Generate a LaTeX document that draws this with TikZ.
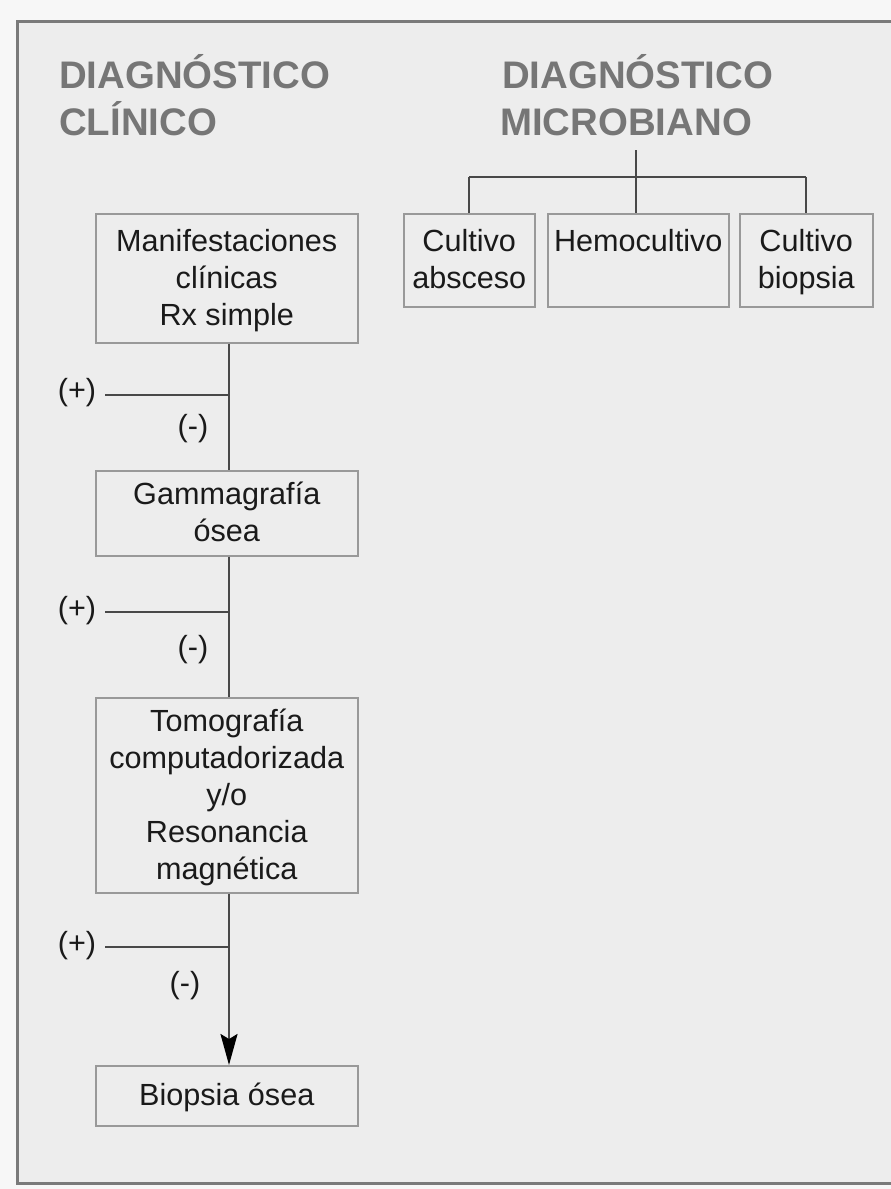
\documentclass[tikz,border=0pt]{standalone}
\usepackage{fontspec}
\setmainfont{Liberation Sans}
\usetikzlibrary{arrows.meta}
\definecolor{paper}{HTML}{F7F7F7}
\definecolor{panel}{HTML}{EDEDED}
\definecolor{framegray}{HTML}{7A7A7A}
\definecolor{boxgray}{HTML}{999999}
\definecolor{linegray}{HTML}{484848}
\definecolor{headgray}{HTML}{767676}
\definecolor{ink}{HTML}{1A1A1A}
% line strut: full line height, baseline placed so letters sit centred
\newcommand\lstrut{\rule[-8.5pt]{0pt}{37pt}}
\tikzset{
  boxtext/.style={font=\fontsize{30.6}{37}\selectfont, text=ink},
  stepbox/.style={boxtext, draw=boxgray, line width=1.5pt, fill=panel,
    align=center, inner sep=0pt, anchor=north west},
  heading/.style={font=\bfseries\fontsize{38.4}{47}\selectfont, text=headgray,
    align=left, inner sep=0pt, anchor=base west},
  conn/.style={draw=linegray, line width=2.2pt},
  sign/.style={boxtext, inner sep=0pt}
}
\begin{document}
\begin{tikzpicture}[x=1pt,y=-1pt]
\useasboundingbox (0,0) rectangle (891,1189);
\clip (0,0) rectangle (891,1189);
\fill[paper] (0,0) rectangle (891,1189);
% outer panel
\filldraw[fill=panel, draw=framegray, line width=3.2pt] (17.5,21.5) rectangle (910,1183.5);

% headings
\node[heading] (hc1) at (59,88) {DIAGNÓSTICO};
\node[heading] (hc2) at (59,135) {CLÍNICO};
\node[heading] (hm1) at (502,88) {DIAGNÓSTICO};
\node[heading] (hm2) at (500,135) {MICROBIANO};

% clinical chain
\node[stepbox, minimum width=262pt, minimum height=129pt] (man) at (95,213)
  {Manifestaciones\lstrut\\clínicas\lstrut\\Rx simple\lstrut};
\node[stepbox, minimum width=262pt, minimum height=85pt] (gam) at (95,470)
  {Gammagrafía\lstrut\\ósea\lstrut};
\node[stepbox, minimum width=262pt, minimum height=195pt] (tom) at (95,697)
  {Tomografía\lstrut\\computadorizada\lstrut\\y/o\lstrut\\Resonancia\lstrut\\magnética\lstrut};
\node[stepbox, minimum width=262pt, minimum height=60pt] (bio) at (95,1065)
  {Biopsia ósea\lstrut};

% microbial tests
\node[stepbox, minimum width=131pt, minimum height=93pt] (cab) at (403,213)
  {Cultivo\lstrut\\absceso\lstrut};
\node[stepbox, minimum width=181pt, minimum height=93pt] (hem) at (547,213)
  {Hemocultivo\lstrut\\\lstrut};
\node[stepbox, minimum width=133pt, minimum height=93pt] (cbi) at (739,213)
  {Cultivo\lstrut\\biopsia\lstrut};

% microbial tree
\coordinate (mtop) at (636,150);
\coordinate (mbar) at (636,177);
\draw[conn] (mtop) -- (mbar);
\draw[conn] (cab.north |- mbar) -- (cbi.north |- mbar);
\draw[conn] (mbar) -- (hem.north -| mbar);
\draw[conn] (cab.north |- mbar) -- (cab.north);
\draw[conn] (cbi.north |- mbar) -- (cbi.north);

% spine with branches
\coordinate (s1) at (229,395);
\coordinate (s2) at (229,612);
\coordinate (s3) at (229,947);
\draw[conn] (man.south -| s1) -- (gam.north -| s1);
\draw[conn] (gam.south -| s2) -- (tom.north -| s2);
\draw[conn, -{Stealth[length=31pt, width=17pt, inset=5pt, color=black]}] (tom.south -| s3) -- (bio.north -| s3);

\coordinate (p1) at (105,395);
\coordinate (p2) at (105,612);
\coordinate (p3) at (105,947);
\draw[conn] (p1) -- (s1);
\draw[conn] (p2) -- (s2);
\draw[conn] (p3) -- (s3);

\node[sign] (plus1) at (77,393) {(+)};
\node[sign] (minus1) at (193,429) {(-)};
\node[sign] (plus2) at (77,611) {(+)};
\node[sign] (minus2) at (193,650) {(-)};
\node[sign] (plus3) at (77,946) {(+)};
\node[sign] (minus3) at (185,986) {(-)};
\end{tikzpicture}
\end{document}
